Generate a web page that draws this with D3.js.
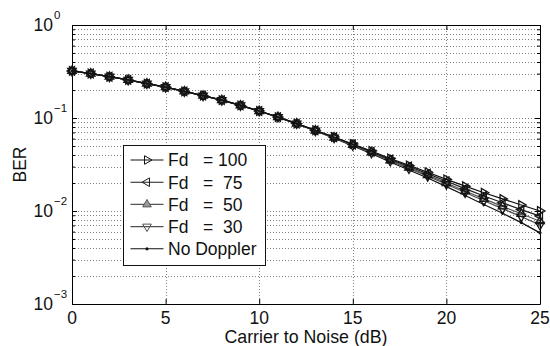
<!DOCTYPE html>
<html>
<head>
<meta charset="utf-8">
<script src="https://cdn.jsdelivr.net/npm/d3@7"></script>
<style>
  html, body { margin: 0; padding: 0; background: #fff; }
  svg { display: block; font-family: "Liberation Sans", Arial, sans-serif; }
  .grid line { stroke: #808080; stroke-width: 1; stroke-dasharray: 1,2; }
  .axis path, .axis line { stroke: #000; }
</style>
</head>
<body>
<svg id="chart" width="550" height="346"></svg>
<script>
// C/N in dB
const cn = d3.range(0, 26);

// BER curves
const berFd100 = [0.3206, 0.3006, 0.2780, 0.2570, 0.2344, 0.2148, 0.1932, 0.1738, 0.1556, 0.1365,
  0.1189, 0.1023, 0.0871, 0.0738, 0.0625, 0.0525, 0.0442, 0.0367, 0.0309, 0.0261,
  0.0219, 0.0185, 0.0157, 0.0135, 0.0116, 0.0100];
const berFd75 = [0.3206, 0.3006, 0.2780, 0.2570, 0.2344, 0.2148, 0.1932, 0.1738, 0.1556, 0.1365,
  0.1189, 0.1023, 0.0871, 0.0735, 0.0621, 0.0519, 0.0434, 0.0359, 0.0301, 0.0252,
  0.0209, 0.0174, 0.0145, 0.01225, 0.01035, 0.00881];
const berFd50 = [0.3206, 0.3006, 0.2780, 0.2570, 0.2344, 0.2148, 0.1932, 0.1738, 0.1556, 0.1365,
  0.1189, 0.1023, 0.0871, 0.0733, 0.0617, 0.0513, 0.0427, 0.0351, 0.0292, 0.0243,
  0.0200, 0.0164, 0.0135, 0.0112, 0.00933, 0.00776];
const berFd30 = [0.3206, 0.3006, 0.2780, 0.2570, 0.2344, 0.2148, 0.1932, 0.1738, 0.1556, 0.1365,
  0.1189, 0.1023, 0.0871, 0.0731, 0.0614, 0.0508, 0.0422, 0.0345, 0.0286, 0.0237,
  0.0194, 0.0158, 0.0129, 0.0106, 0.00869, 0.00708];
const berNoDoppler = [0.3206, 0.3006, 0.2780, 0.2570, 0.2344, 0.2148, 0.1932, 0.1738, 0.1556, 0.1365,
  0.1189, 0.1023, 0.0871, 0.0728, 0.0608, 0.0501, 0.0413, 0.0336, 0.0276, 0.0226,
  0.0183, 0.0147, 0.01175, 0.00944, 0.0075, 0.00582];

const legendLabels = ["Fd   = 100", "Fd   =  75", "Fd   =  50", "Fd   =  30", "No Doppler"];
const xTicks = [0, 5, 10, 15, 20, 25];
const yExponents = [0, -1, -2, -3];

const series = [
  { label: legendLabels[0], data: berFd100, marker: "right", color: "#111", fill: "none" },
  { label: legendLabels[1], data: berFd75, marker: "left", color: "#1c1c1c", fill: "none" },
  { label: legendLabels[2], data: berFd50, marker: "up", color: "#555", fill: "#9a9a9a" },
  { label: legendLabels[3], data: berFd30, marker: "down", color: "#505050", fill: "none" },
  { label: legendLabels[4], data: berNoDoppler, marker: "dot", color: "#111", fill: "none" }
];

const margin = { top: 25, right: 10, bottom: 42, left: 72 };
const W = 550, H = 346;
const FS = 17.5;
const svg = d3.select("#chart");

const x = d3.scaleLinear().domain([0, 25]).range([margin.left, W - margin.right]);
const y = d3.scaleLog().domain([1e-3, 1]).range([H - margin.bottom, margin.top]);

// log ticks: decades and minors
const yMajor = yExponents.map(e => Math.pow(10, e));
const yMinor = [];
for (let e = -3; e < 0; e++) {
  for (let m = 2; m <= 9; m++) yMinor.push(m * Math.pow(10, e));
}

// grid
const grid = svg.append("g").attr("class", "grid");
grid.selectAll("line.gx").data(xTicks.slice(1, -1)).join("line")
  .attr("class", "gx")
  .attr("x1", d => Math.round(x(d)) + 0.5).attr("x2", d => Math.round(x(d)) + 0.5)
  .attr("y1", y(1)).attr("y2", y(1e-3));
grid.selectAll("line.gy").data(yMinor.concat(yMajor.slice(1, -1))).join("line")
  .attr("class", "gy")
  .attr("x1", x(0)).attr("x2", x(25))
  .attr("y1", d => Math.round(y(d)) + 0.5).attr("y2", d => Math.round(y(d)) + 0.5);

// axes (box with inward ticks)
svg.append("g").attr("class", "axis")
  .attr("transform", `translate(0,${y(1e-3)})`)
  .call(d3.axisBottom(x).tickValues(xTicks).tickSizeInner(-5).tickSizeOuter(0).tickFormat(""));
svg.append("g").attr("class", "axis")
  .attr("transform", `translate(0,${y(1)})`)
  .call(d3.axisTop(x).tickValues(xTicks).tickSizeInner(-5).tickSizeOuter(0).tickFormat(""));
svg.append("g").attr("class", "axis")
  .attr("transform", `translate(${x(0)},0)`)
  .call(d3.axisLeft(y).tickValues(yMajor).tickSizeInner(-5).tickSizeOuter(0).tickFormat(""));
svg.append("g").attr("class", "axis")
  .attr("transform", `translate(${x(0)},0)`)
  .call(d3.axisLeft(y).tickValues(yMinor).tickSizeInner(-3).tickSizeOuter(0).tickFormat(""))
  .select(".domain").remove();
svg.append("g").attr("class", "axis")
  .attr("transform", `translate(${x(25)},0)`)
  .call(d3.axisRight(y).tickValues(yMajor).tickSizeInner(-5).tickSizeOuter(0).tickFormat(""));
svg.append("g").attr("class", "axis")
  .attr("transform", `translate(${x(25)},0)`)
  .call(d3.axisRight(y).tickValues(yMinor).tickSizeInner(-3).tickSizeOuter(0).tickFormat(""))
  .select(".domain").remove();

// tick labels
svg.append("g").selectAll("text").data(xTicks).join("text")
  .attr("x", d => x(d)).attr("y", y(1e-3) + 20)
  .attr("text-anchor", "middle").attr("font-size", FS).attr("fill", "#111")
  .text(d => d);

const yl = svg.append("g").selectAll("g").data(yExponents).join("g")
  .attr("transform", d => `translate(53,${y(Math.pow(10, d))})`);
yl.append("text").attr("x", 0).attr("y", 6).attr("text-anchor", "end")
  .attr("font-size", FS).attr("fill", "#111").text("10");
yl.append("text").attr("x", 1).attr("y", -6).attr("text-anchor", "start")
  .attr("font-size", 11.5).attr("fill", "#111").text(d => d === 0 ? "0" : "\u2212" + (-d));

// axis titles
svg.append("text").attr("x", (x(0) + x(25)) / 2).attr("y", 343)
  .attr("text-anchor", "middle").attr("font-size", 17.8).attr("fill", "#111")
  .text("Carrier to Noise (dB)");
svg.append("text").attr("transform", `translate(25.5,${(y(1) + y(1e-3)) / 2}) rotate(-90)`)
  .attr("text-anchor", "middle").attr("font-size", FS).attr("fill", "#111")
  .text("BER");

// markers
const rot = { right: 90, left: -90, up: 0, down: 180 };
function drawMarker(sel, s, sw) {
  if (s.marker === "dot") {
    sel.append("circle").attr("r", 1.6).attr("fill", s.color);
  } else {
    sel.append("path")
      .attr("d", d3.symbol(d3.symbolTriangle, 32)())
      .attr("transform", `rotate(${rot[s.marker]})`)
      .attr("fill", s.fill)
      .attr("stroke", s.color).attr("stroke-width", sw);
  }
}

// lines + markers; drawn last-to-first so the Fd = 100 curve sits on top
const line = d3.line().x((d, i) => x(cn[i])).y(d => y(d));
const plot = svg.append("g");
series.slice().reverse().forEach(s => {
  const g = plot.append("g");
  g.append("path").datum(s.data).attr("d", line)
    .attr("fill", "none").attr("stroke", s.color).attr("stroke-width", 1.2);
  g.selectAll("g.m").data(s.data).join("g").attr("class", "m")
    .attr("transform", (d, i) => `translate(${x(cn[i])},${y(d)})`)
    .each(function () { drawMarker(d3.select(this), { ...s, fill: "none", color: "#151515" }, 1.3); });
});

// legend
const lg = svg.append("g");
lg.append("rect").attr("x", 123.5).attr("y", 145.5).attr("width", 142).attr("height", 120)
  .attr("fill", "#fff").attr("stroke", "#111").attr("stroke-width", 1);
const rows = lg.selectAll("g.row").data(series).join("g").attr("class", "row")
  .attr("transform", (d, i) => `translate(0,${160 + i * 22.2})`);
rows.append("line").attr("x1", 130.5).attr("x2", 163.5).attr("y1", 0).attr("y2", 0)
  .attr("stroke", d => d.color).attr("stroke-width", 1.1);
rows.append("g").attr("transform", "translate(147,0)")
  .each(function (d) { drawMarker(d3.select(this), d, 1); });
rows.append("text").attr("x", 168).attr("y", 6.3).attr("font-size", FS).attr("fill", "#111")
  .style("white-space", "pre").attr("xml:space", "preserve")
  .text(d => d.label);
</script>
</body>
</html>
